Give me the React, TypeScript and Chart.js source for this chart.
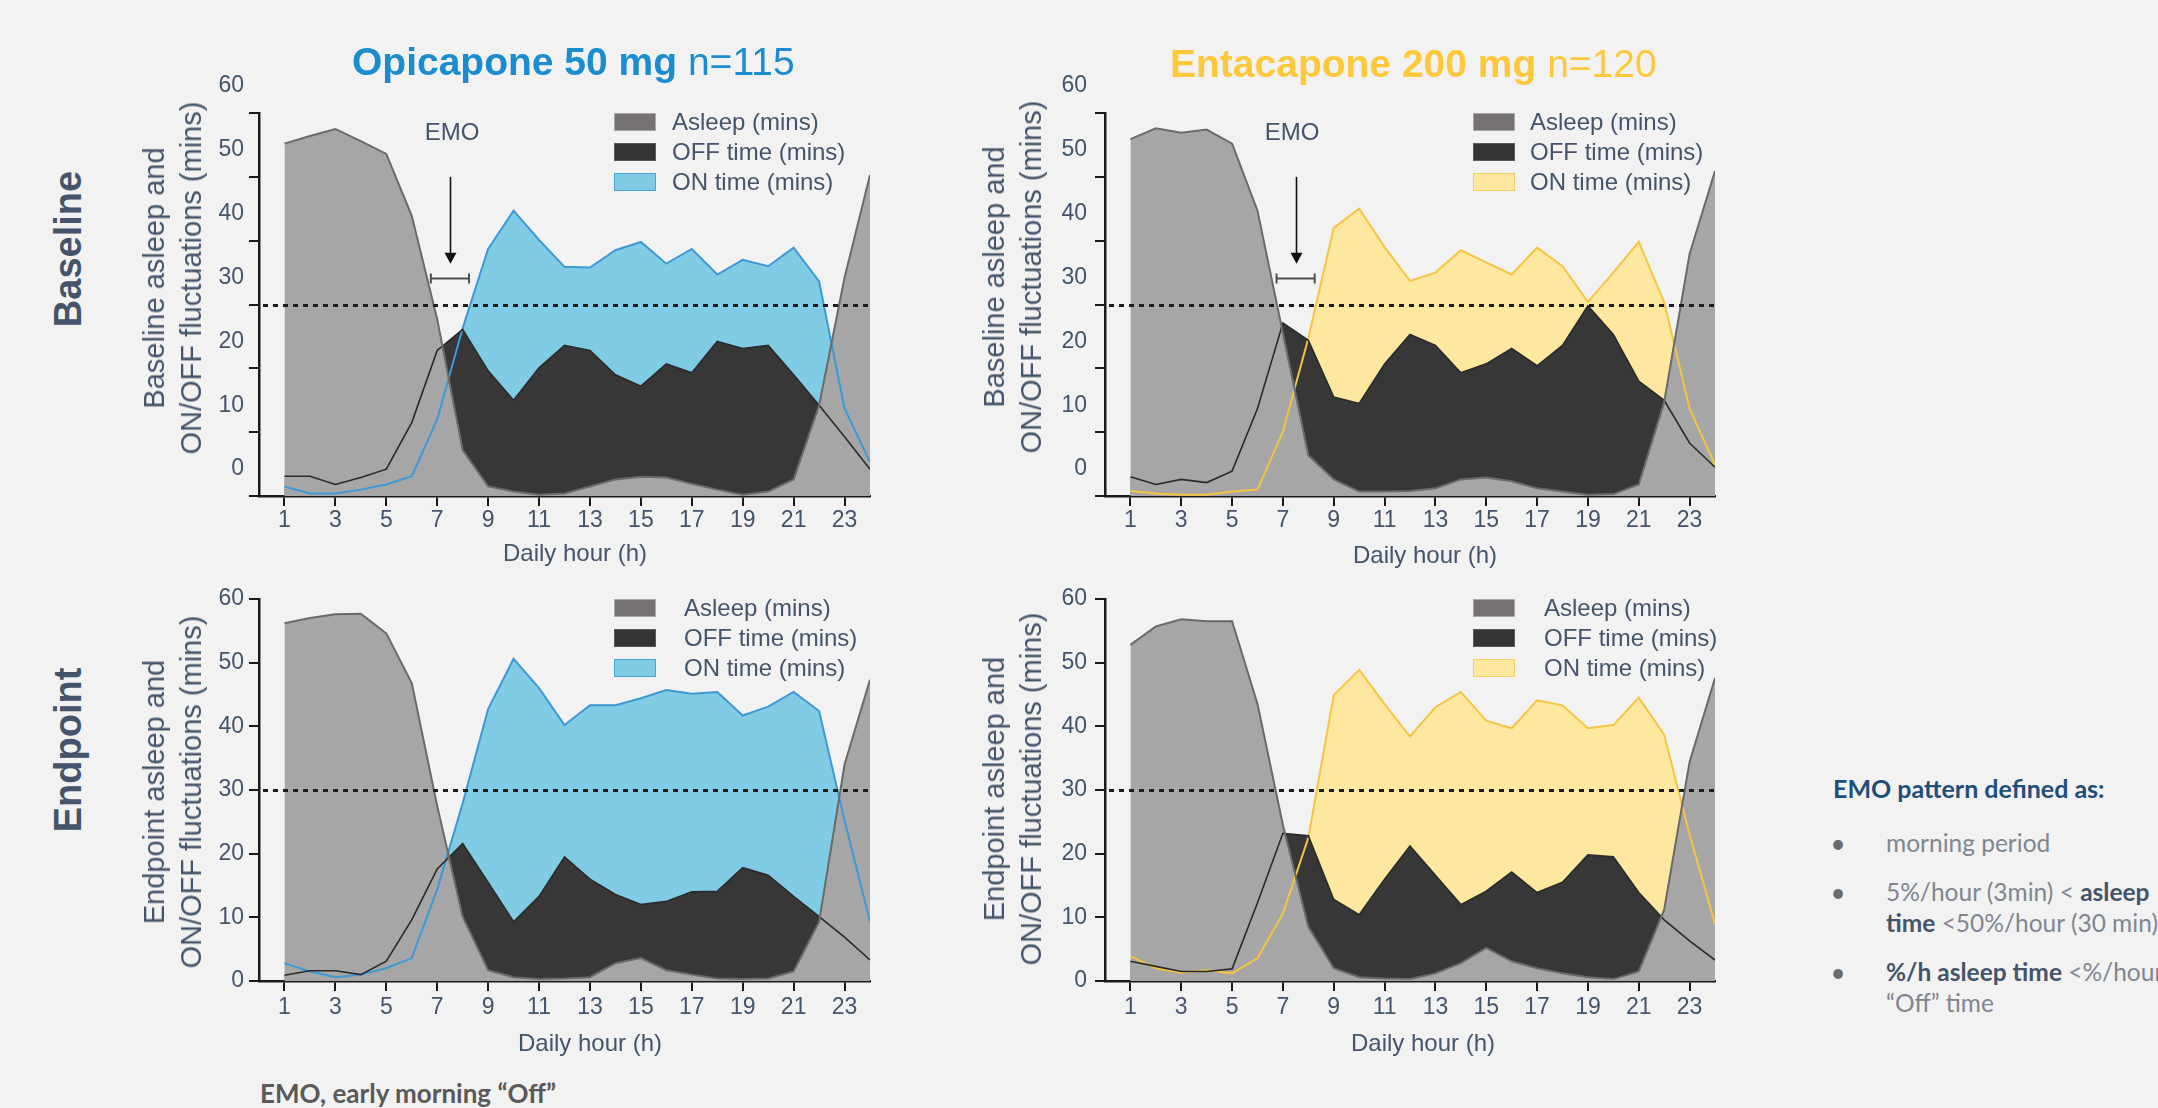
import React, { useEffect, useRef } from 'react';
import { Chart, registerables } from 'chart.js';

Chart.register(...registerables);

// ---------- data ----------
const hours = [1, 2, 3, 4, 5, 6, 7, 8, 9, 10, 11, 12, 13, 14, 15, 16, 17, 18, 19, 20, 21, 22, 23, 24];
const xTickHours = [1, 3, 5, 7, 9, 11, 13, 15, 17, 19, 21, 23];
const yTickValues = [0, 10, 20, 30, 40, 50, 60];
const thresholdMins = 30;

const opiBaselineAsleep = [55.2, 56.4, 57.5, 55.6, 53.6, 43.9, 27.7, 7.2, 1.5, 0.7, 0.2, 0.4, 1.5, 2.6, 3.0, 2.9, 1.9, 1.0, 0.2, 0.7, 2.6, 14.2, 34.2, 50.3];
const opiBaselineOff = [3.1, 3.1, 1.8, 2.9, 4.2, 11.5, 22.8, 26.1, 19.6, 15.0, 20.1, 23.6, 22.8, 19.0, 17.2, 20.7, 19.3, 24.2, 23.1, 23.6, 19.0, 14.2, 9.3, 4.2];
const opiBaselineOn = [1.5, 0.4, 0.4, 1.0, 1.8, 3.1, 12.0, 26.3, 38.7, 44.7, 40.1, 35.9, 35.8, 38.5, 39.8, 36.4, 38.7, 34.7, 37.0, 36.0, 38.9, 33.6, 13.7, 5.3];

const entBaselineAsleep = [55.9, 57.6, 56.9, 57.4, 55.2, 44.7, 25.5, 6.4, 2.6, 0.7, 0.7, 0.8, 1.2, 2.6, 2.9, 2.3, 1.2, 0.7, 0.2, 0.3, 1.8, 14.7, 37.9, 50.9];
const entBaselineOff = [3.0, 1.8, 2.6, 2.1, 3.9, 13.7, 27.1, 24.4, 15.5, 14.5, 20.7, 25.3, 23.6, 19.3, 20.7, 23.1, 20.4, 23.6, 29.8, 25.3, 18.0, 15.0, 8.3, 4.5];
const entBaselineOn = [0.8, 0.4, 0.2, 0.2, 0.7, 1.0, 10.1, 24.7, 42.0, 45.0, 39.0, 33.7, 35.0, 38.5, 36.6, 34.7, 38.9, 36.0, 30.4, 35.0, 39.8, 30.4, 13.7, 4.9];

const opiEndpointAsleep = [56.2, 57.0, 57.6, 57.7, 54.6, 46.8, 27.5, 10.1, 1.7, 0.6, 0.3, 0.4, 0.6, 2.8, 3.6, 1.7, 1.0, 0.4, 0.3, 0.4, 1.5, 9.3, 34.0, 47.3];
const opiEndpointOff = [0.9, 1.6, 1.6, 1.0, 3.1, 9.6, 17.6, 21.6, 15.5, 9.3, 13.3, 19.5, 16.0, 13.6, 12.0, 12.5, 14.0, 14.1, 17.8, 16.6, 13.3, 10.1, 6.9, 3.3];
const opiEndpointOn = [2.8, 1.5, 0.6, 1.0, 2.0, 3.6, 14.4, 27.9, 42.7, 50.6, 46.0, 40.2, 43.3, 43.3, 44.4, 45.7, 45.1, 45.4, 41.7, 43.1, 45.4, 42.4, 25.2, 9.3];

const entEndpointAsleep = [52.8, 55.7, 56.8, 56.5, 56.5, 43.5, 24.5, 8.5, 2.0, 0.6, 0.4, 0.3, 1.2, 2.8, 5.2, 3.1, 2.0, 1.2, 0.6, 0.3, 1.5, 11.2, 34.4, 47.6];
const entEndpointOff = [3.1, 2.3, 1.5, 1.5, 1.9, 12.3, 23.2, 22.8, 12.8, 10.4, 16.0, 21.2, 16.6, 12.0, 14.1, 17.1, 13.9, 15.5, 19.8, 19.5, 13.9, 9.6, 6.3, 3.3];
const entEndpointOn = [3.9, 2.0, 1.3, 1.7, 1.2, 3.6, 10.6, 22.5, 44.9, 48.9, 43.5, 38.4, 43.0, 45.4, 40.9, 39.7, 44.1, 43.3, 39.7, 40.2, 44.5, 38.7, 23.0, 9.0];

// EMO annotation (in data units: hours / minutes)
const emoArrowHour = 7.5;
const emoArrowFrom = 50;
const emoArrowTo = 36.4;
const emoBracketHours = [6.75, 8.25];
const emoBracketLevel = 34.2;

const legendLabels = ['Asleep (mins)', 'OFF time (mins)', 'ON time (mins)'];

// ---------- styles ----------
const FONT = "'Liberation Sans', Arial, Helvetica, sans-serif";
const SLATE = '#44546a';
const AXIS = '#1a1a1a';
const BLUE_FILL = '#80cce5';
const BLUE_LINE = '#3f98d6';
const YELLOW_FILL = '#fee79f';
const YELLOW_LINE = '#f4c443';

const emoPlugin = {
  id: 'emoAnnot',
  afterDatasetsDraw(chart: any, _args: any, opts: any) {
    const { ctx, chartArea: ca, scales } = chart;
    const xs = scales.x;
    const ys = scales.y;
    const py = Math.round(ys.getPixelForValue(thresholdMins)) + 0.5;
    ctx.save();
    ctx.strokeStyle = '#1c1c1c';
    ctx.lineWidth = 3;
    ctx.setLineDash([5, 5]);
    ctx.beginPath();
    ctx.moveTo(ca.left + 4, py);
    ctx.lineTo(ca.right, py);
    ctx.stroke();
    ctx.setLineDash([]);
    if (opts && opts.emo) {
      const ax = Math.round(xs.getPixelForValue(emoArrowHour)) + 0.5;
      const y1 = ys.getPixelForValue(emoArrowFrom);
      const y2 = ys.getPixelForValue(emoArrowTo);
      ctx.strokeStyle = '#111';
      ctx.lineWidth = 1.6;
      ctx.beginPath();
      ctx.moveTo(ax, y1);
      ctx.lineTo(ax, y2 - 8);
      ctx.stroke();
      ctx.fillStyle = '#111';
      ctx.beginPath();
      ctx.moveTo(ax - 6, y2 - 11);
      ctx.lineTo(ax + 6, y2 - 11);
      ctx.lineTo(ax, y2);
      ctx.closePath();
      ctx.fill();
      const bx1 = xs.getPixelForValue(emoBracketHours[0]);
      const bx2 = xs.getPixelForValue(emoBracketHours[1]);
      const by = Math.round(ys.getPixelForValue(emoBracketLevel)) + 0.5;
      ctx.strokeStyle = '#505050';
      ctx.lineWidth = 2;
      ctx.beginPath();
      ctx.moveTo(bx1, by);
      ctx.lineTo(bx2, by);
      ctx.moveTo(bx1, by - 5);
      ctx.lineTo(bx1, by + 5);
      ctx.moveTo(bx2, by - 5);
      ctx.lineTo(bx2, by + 5);
      ctx.stroke();
    }
    ctx.restore();
  },
};

type PanelProps = {
  L: number; R: number; T: number; B: number;
  asleep: number[]; off: number[]; on: number[];
  onFill: string; onLine: string;
  labelOffset: number; yPad: number; xPad: number; emo: boolean;
};

function Panel(p: PanelProps) {
  const ref = useRef<HTMLCanvasElement | null>(null);
  const WY = 80, PT = 50, HX = 50, PR = 12;
  const cw = p.R - p.L + WY + PR;
  const ch = p.B - p.T + PT + HX;
  useEffect(() => {
    const pts = (arr: number[]) => hours.map((h, i) => ({ x: h, y: arr[i] }));
    const tickFont = { family: FONT, size: 23 };
    const chart = new Chart(ref.current as HTMLCanvasElement, {
      type: 'line',
      data: {
        datasets: [
          { label: legendLabels[0], data: pts(p.asleep), fill: 'origin', backgroundColor: '#a6a6a6', borderColor: '#6a6a6a', borderWidth: 2 },
          { label: legendLabels[1], data: pts(p.off), fill: 'origin', backgroundColor: '#373737', borderColor: '#2a2a2a', borderWidth: 1.6 },
          { label: legendLabels[2], data: pts(p.on), fill: 'origin', backgroundColor: p.onFill, borderColor: p.onLine, borderWidth: 2 },
        ],
      } as any,
      options: {
        responsive: false,
        animation: false,
        events: [],
        layout: { padding: { top: PT, right: PR, left: 0, bottom: 0 } },
        elements: { point: { radius: 0 }, line: { tension: 0 } },
        plugins: {
          legend: { display: false },
          tooltip: { enabled: false },
          filler: { drawTime: 'beforeDatasetsDraw' },
          emoAnnot: { emo: p.emo },
        } as any,
        scales: {
          x: {
            type: 'linear', min: 0, max: 24, z: 1,
            afterBuildTicks: (s: any) => { s.ticks = xTickHours.map((v) => ({ value: v })); },
            afterFit: (s: any) => { s.height = HX; },
            grid: { display: true, drawOnChartArea: false, drawTicks: true, tickLength: 10, color: AXIS, lineWidth: 2 },
            border: { display: true, color: AXIS, width: 2.5 },
            ticks: { color: SLATE, font: tickFont, padding: p.xPad, autoSkip: false, maxRotation: 0 },
          },
          y: {
            type: 'linear', min: 0, max: 60, z: 1,
            afterBuildTicks: (s: any) => { s.ticks = yTickValues.map((v) => ({ value: v })); },
            afterFit: (s: any) => { s.width = WY; },
            grid: { display: true, drawOnChartArea: false, drawTicks: true, tickLength: 10, color: AXIS, lineWidth: 2 },
            border: { display: true, color: AXIS, width: 2.5 },
            ticks: { color: SLATE, font: tickFont, padding: p.yPad, labelOffset: p.labelOffset },
          },
        } as any,
      },
      plugins: [emoPlugin],
    });
    return () => chart.destroy();
  }, []);
  return (
    <canvas
      ref={ref}
      width={cw}
      height={ch}
      style={{ position: 'absolute', left: p.L - WY, top: p.T - PT, width: cw, height: ch }}
    />
  );
}

function Legend({ bx, tx, ys, onFill, onBorder }: { bx: number; tx: number; ys: number[]; onFill: string; onBorder: string }) {
  const boxes = [
    { fill: '#767272', border: '#a8a8a8' },
    { fill: '#343434', border: '#5a5a5a' },
    { fill: onFill, border: onBorder },
  ];
  return (
    <>
      {boxes.map((b, i) => (
        <React.Fragment key={i}>
          <div style={{ position: 'absolute', left: bx, top: ys[i] - 9, width: 42, height: 18, background: b.fill, border: `1.5px solid ${b.border}`, boxSizing: 'border-box' }} />
          <div style={{ position: 'absolute', left: tx, top: ys[i], transform: 'translateY(-50%)', fontSize: 24, color: SLATE, whiteSpace: 'nowrap', lineHeight: 1 }}>
            {legendLabels[i]}
          </div>
        </React.Fragment>
      ))}
    </>
  );
}

function Centered({ x, y, size, children, rotate, bold, color, lh }: any) {
  return (
    <div
      style={{
        position: 'absolute', left: x, top: y,
        transform: `translate(-50%, -50%)${rotate ? ' rotate(-90deg)' : ''}`,
        fontSize: size, fontWeight: bold ? 700 : 400, color: color || SLATE,
        whiteSpace: 'nowrap', textAlign: 'center', lineHeight: lh ? `${lh}px` : 1,
      }}
    >
      {children}
    </div>
  );
}

const CAL = "Lato, 'Open Sans', sans-serif";

export default function App() {
  const L1 = 259, R1 = 870, L2 = 1105, R2 = 1715;
  const T1 = 113, B1 = 496, T2 = 599, B2 = 981;
  return (
    <div style={{ position: 'fixed', left: 0, top: 0, width: 2158, height: 1108, background: '#f2f2f2', overflow: 'hidden', fontFamily: FONT }}>
      <Panel L={L1} R={R1} T={T1} B={B1} asleep={opiBaselineAsleep} off={opiBaselineOff} on={opiBaselineOn} onFill={BLUE_FILL} onLine={BLUE_LINE} labelOffset={-27} yPad={5} xPad={1} emo={true} />
      <Panel L={L2} R={R2} T={T1} B={B1} asleep={entBaselineAsleep} off={entBaselineOff} on={entBaselineOn} onFill={YELLOW_FILL} onLine={YELLOW_LINE} labelOffset={-27} yPad={8} xPad={1} emo={true} />
      <Panel L={L1} R={R1} T={T2} B={B2} asleep={opiEndpointAsleep} off={opiEndpointOff} on={opiEndpointOn} onFill={BLUE_FILL} onLine={BLUE_LINE} labelOffset={0} yPad={5} xPad={3} emo={false} />
      <Panel L={L2} R={R2} T={T2} B={B2} asleep={entEndpointAsleep} off={entEndpointOff} on={entEndpointOn} onFill={YELLOW_FILL} onLine={YELLOW_LINE} labelOffset={0} yPad={8} xPad={3} emo={false} />

      {/* column titles */}
      <div style={{ position: 'absolute', left: 352, top: 61, transform: 'translateY(-50%)', fontSize: 39, color: '#1a8ccf', whiteSpace: 'nowrap', lineHeight: 1 }}>
        <b>Opicapone 50 mg</b> n=115
      </div>
      <div style={{ position: 'absolute', left: 1170, top: 63, transform: 'translateY(-50%)', fontSize: 39, color: '#fec83b', whiteSpace: 'nowrap', lineHeight: 1 }}>
        <b>Entacapone 200 mg</b> n=120
      </div>

      {/* row labels */}
      <Centered x={68} y={249} size={38} rotate bold>Baseline</Centered>
      <Centered x={68} y={750} size={38} rotate bold>Endpoint</Centered>

      {/* y titles */}
      <Centered x={172.5} y={278} size={29} rotate lh={37}>Baseline asleep and<br />ON/OFF fluctuations (mins)</Centered>
      <Centered x={1012.5} y={277} size={29} rotate lh={37}>Baseline asleep and<br />ON/OFF fluctuations (mins)</Centered>
      <Centered x={172.5} y={792} size={29} rotate lh={37}>Endpoint asleep and<br />ON/OFF fluctuations (mins)</Centered>
      <Centered x={1012.5} y={789} size={29} rotate lh={37}>Endpoint asleep and<br />ON/OFF fluctuations (mins)</Centered>

      {/* x titles */}
      <Centered x={575} y={553} size={24}>Daily hour (h)</Centered>
      <Centered x={1425} y={555} size={24}>Daily hour (h)</Centered>
      <Centered x={590} y={1043} size={24}>Daily hour (h)</Centered>
      <Centered x={1423} y={1043} size={24}>Daily hour (h)</Centered>

      {/* EMO labels */}
      <Centered x={452} y={132} size={24}>EMO</Centered>
      <Centered x={1292} y={132} size={24}>EMO</Centered>

      {/* legends */}
      <Legend bx={614} tx={672} ys={[122, 152, 181.5]} onFill={BLUE_FILL} onBorder={'#4aa2d8'} />
      <Legend bx={1473} tx={1530} ys={[122, 152, 181.5]} onFill={YELLOW_FILL} onBorder={'#f6d064'} />
      <Legend bx={614} tx={684} ys={[608, 638, 667.5]} onFill={BLUE_FILL} onBorder={'#4aa2d8'} />
      <Legend bx={1473} tx={1544} ys={[608, 638, 667.5]} onFill={YELLOW_FILL} onBorder={'#f6d064'} />

      {/* footnote */}
      <div style={{ position: 'absolute', left: 260, top: 1093, transform: 'translateY(-50%)', fontFamily: CAL, fontWeight: 700, fontSize: 26, color: '#595959', whiteSpace: 'nowrap', lineHeight: 1 }}>
        EMO, early morning “Off”
      </div>

      {/* EMO definition */}
      <div style={{ fontFamily: CAL, fontSize: 24.5, color: '#7f8690', whiteSpace: 'nowrap' }}>
        <div style={{ position: 'absolute', left: 1833, top: 788, transform: 'translateY(-50%)', fontWeight: 700, fontSize: 25, color: '#1f4e79', lineHeight: 1 }}>EMO pattern defined as:</div>
        {[843, 892, 972].map((y, i) => (
          <div key={i} style={{ position: 'absolute', left: 1838, top: y, transform: 'translate(-50%, -50%)', lineHeight: 1, fontSize: 26, color: '#6b6b6b' }}>•</div>
        ))}
        <div style={{ position: 'absolute', left: 1886, top: 843, transform: 'translateY(-50%)', lineHeight: 1 }}>morning period</div>
        <div style={{ position: 'absolute', left: 1886, top: 892, transform: 'translateY(-50%)', lineHeight: 1 }}>
          5%/hour (3min) &lt; <b style={{ color: SLATE }}>asleep</b>
        </div>
        <div style={{ position: 'absolute', left: 1886, top: 923, transform: 'translateY(-50%)', lineHeight: 1 }}>
          <b style={{ color: SLATE }}>time</b> &lt;50%/hour (30 min)
        </div>
        <div style={{ position: 'absolute', left: 1886, top: 972, transform: 'translateY(-50%)', lineHeight: 1 }}>
          <b style={{ color: SLATE }}>%/h asleep time</b> &lt;%/hour
        </div>
        <div style={{ position: 'absolute', left: 1886, top: 1003, transform: 'translateY(-50%)', lineHeight: 1 }}>“Off” time</div>
      </div>
    </div>
  );
}
